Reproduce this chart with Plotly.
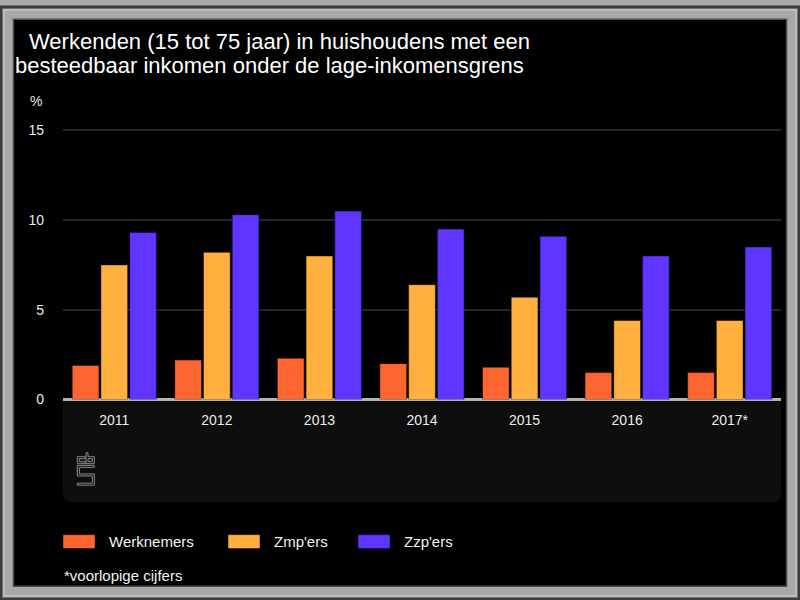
import plotly.graph_objects as go

# ---------------- data ----------------
years = ["2011", "2012", "2013", "2014", "2015", "2016", "2017*"]
series_names = ["Werknemers", "Zmp'ers", "Zzp'ers"]
werknemers = [1.9, 2.2, 2.3, 2.0, 1.8, 1.5, 1.5]
zmpers = [7.5, 8.2, 8.0, 6.4, 5.7, 4.4, 4.4]
zzpers = [9.3, 10.3, 10.5, 9.5, 9.1, 8.0, 8.5]
y_ticks = [0, 5, 10, 15]
title_lines = ["Werkenden (15 tot 75 jaar) in huishoudens met een",
               "besteedbaar inkomen onder de lage-inkomensgrens"]
y_unit = "%"
footnote = "*voorlopige cijfers"

# ---------------- style ----------------
colors = ["#ff6530", "#ffb03f", "#5f35ff"]
FRAME = "#a8a8a8"
W = 800
H = 608          # the captured page is taller than 600 and is shrunk to fit
REF_H = 600      # layout positions below are given in 800x600 picture pixels


def X(px):
    return px / W


def Y(py):
    return 1 - py / REF_H


def P(px, py):
    return f"{X(px)},{Y(py)}"


fig = go.Figure()
for name, vals, col in zip(series_names, [werknemers, zmpers, zzpers], colors):
    fig.add_trace(go.Bar(
        x=years, y=vals, name=name,
        marker=dict(color=col, line=dict(color="rgba(0,0,0,0.45)", width=1)),
    ))

shapes = []
# frame
shapes.append(dict(type="rect", xref="paper", yref="paper", x0=X(1), x1=X(799), y0=Y(1), y1=Y(599),
                   line=dict(color="#3c3c3c", width=3), fillcolor=FRAME, layer="below"))
shapes.append(dict(type="rect", xref="paper", yref="paper", x0=X(4), x1=X(796), y0=Y(4), y1=Y(596),
                   line=dict(color="#c4c4c4", width=1.5), layer="below"))
shapes.append(dict(type="rect", xref="paper", yref="paper", x0=X(13.5), x1=X(786.5), y0=Y(13.5), y1=Y(586),
                   line=dict(color="#4a4a4a", width=1.5), fillcolor="#000000", layer="below"))
# plot geometry (0 baseline and pixels per unit)
base_y = 397.5
unit_px = 18.13
# dark panel under the axis (rounded bottom corners)
x0, x1, y0, y1, r = 63, 781, base_y, 501, 8
panel_path = (f"M{P(x0, y0)} L{P(x1, y0)} L{P(x1, y1 - r)} Q{P(x1, y1)} {P(x1 - r, y1)} "
              f"L{P(x0 + r, y1)} Q{P(x0, y1)} {P(x0, y1 - r)} Z")
shapes.append(dict(type="path", xref="paper", yref="paper", path=panel_path,
                   fillcolor="#0e0e0e", line=dict(width=0), layer="below"))

# cbs logo (outline glyphs)
ly = -2
logo_polys = [
    [(85.3, 457.3), (77.3, 457.3), (77.3, 464.3), (85.3, 464.3), (85.3, 462.3), (79.3, 462.3),
     (79.3, 459.3), (85.3, 459.3)],
    [(86, 453.3), (88, 453.3), (88, 457.3), (94.3, 457.3), (94.3, 464.3), (86, 464.3)],
    [(88, 459.3), (92.3, 459.3), (92.3, 462.3), (88, 462.3)],
    [(94.3, 466), (77.3, 466), (77.3, 476.7), (92.3, 476.7), (92.3, 484), (77.3, 484), (77.3, 486),
     (94.3, 486), (94.3, 474.7), (79.3, 474.7), (79.3, 468), (94.3, 468)],
]
for poly in logo_polys:
    path = "M" + " L".join(P(a, b + ly) for a, b in poly) + " Z"
    shapes.append(dict(type="path", xref="paper", yref="paper", path=path,
                       line=dict(color="#8a8a8a", width=1), layer="below"))

annotations = []
FONT = "Liberation Sans, Arial"
annotations.append(dict(text=title_lines[0], xref="paper", yref="paper", x=X(27), y=Y(36),
                        xanchor="left", yanchor="middle", showarrow=False,
                        font=dict(size=22, color="#ffffff", family=FONT)))
annotations.append(dict(text=title_lines[1], xref="paper", yref="paper", x=X(13), y=Y(60),
                        xanchor="left", yanchor="middle", showarrow=False,
                        font=dict(size=22, color="#ffffff", family=FONT)))
annotations.append(dict(text=y_unit, xref="paper", yref="paper", x=X(36), y=Y(96),
                        xanchor="center", yanchor="middle", showarrow=False,
                        font=dict(size=14, color="#e6e6e6", family=FONT)))
# legend (custom, wide swatches)
swatch_x = [63, 228, 358]
for name, col, sx in zip(series_names, colors, swatch_x):
    shapes.append(dict(type="rect", xref="paper", yref="paper", x0=X(sx), x1=X(sx + 32),
                       y0=Y(548), y1=Y(534), fillcolor=col,
                       line=dict(color="rgba(0,0,0,0.45)", width=1)))
    annotations.append(dict(text=name, xref="paper", yref="paper", x=X(sx + 44), y=Y(541),
                            xanchor="left", yanchor="middle", showarrow=False,
                            font=dict(size=15, color="#f2f2f2", family=FONT)))
annotations.append(dict(text=footnote, xref="paper", yref="paper", x=X(62), y=Y(575),
                        xanchor="left", yanchor="middle", showarrow=False,
                        font=dict(size=15, color="#f2f2f2", family=FONT)))

# small headroom so the 15 gridline is drawn
y_top = 15.1
fig.update_layout(
    width=W, height=H,
    margin=dict(l=0, r=0, t=0, b=0),
    paper_bgcolor=FRAME,
    plot_bgcolor="rgba(0,0,0,0)",
    showlegend=False,
    barmode="group",
    bargap=0.16,
    bargroupgap=0.07,
    font=dict(family=FONT, color="#e6e6e6"),
    shapes=shapes,
    annotations=annotations,
    xaxis=dict(domain=[X(63), X(781)], showgrid=False, showline=False, zeroline=False,
               tickfont=dict(size=14, color="#ececec"), ticklabelstandoff=10, fixedrange=True),
    yaxis=dict(domain=[Y(base_y), Y(base_y - unit_px * y_top)], range=[0, y_top], tickvals=y_ticks,
               showgrid=True, gridcolor="#262626", gridwidth=2,
               zeroline=True, zerolinecolor="#b4b4b4", zerolinewidth=2.5,
               showline=False, tickfont=dict(size=14, color="#ececec"),
               ticklabelstandoff=18, fixedrange=True),
)

fig.write_html("out.html",
               post_script="document.documentElement.style.background='%s';"
                           "document.body.style.background='%s';" % (FRAME, FRAME))
